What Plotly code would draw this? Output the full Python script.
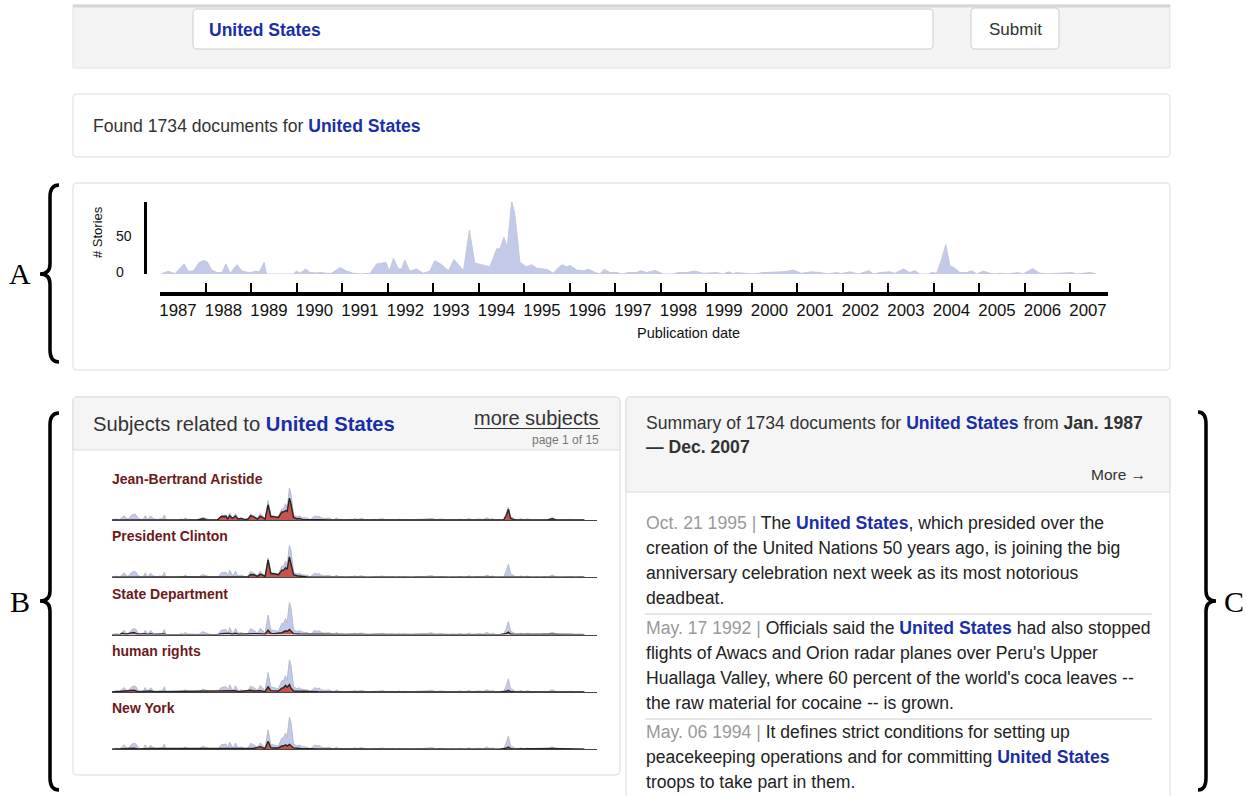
import plotly.graph_objects as go

W, H = 1247, 796
SANS = "Liberation Sans, Arial, Helvetica, sans-serif"
SERIF = "Liberation Serif, Times New Roman, serif"
BLUE_TXT = "#1a2ea8"

# ---------------- data ----------------
total_years = [1987.02, 1987.18, 1987.33, 1987.53, 1987.62, 1987.73, 1987.86, 1987.95, 1988.03, 1988.14,
               1988.25, 1988.36, 1988.45, 1988.54, 1988.69, 1988.80, 1988.98, 1989.09, 1989.18, 1989.29,
               1989.34, 1989.93, 1990.00, 1990.08, 1990.20, 1990.30, 1990.44, 1990.55, 1990.66, 1990.77,
               1990.96, 1991.10, 1991.25, 1991.40, 1991.62, 1991.76, 1991.97, 1992.04, 1992.13, 1992.24,
               1992.31, 1992.38, 1992.49, 1992.64, 1992.79, 1992.93, 1993.04, 1993.19, 1993.34, 1993.46,
               1993.56, 1993.67, 1993.80, 1993.92, 1994.07, 1994.25, 1994.40, 1994.47, 1994.56, 1994.63,
               1994.73, 1994.80, 1994.91, 1995.06, 1995.17, 1995.28, 1995.42, 1995.53, 1995.64, 1995.83,
               1995.94, 1996.01, 1996.16, 1996.30, 1996.43, 1996.56, 1996.67, 1996.76, 1996.89, 1997.04,
               1997.15, 1997.29, 1997.48, 1997.56, 1997.70, 1997.88, 1998.06, 1998.28, 1998.39, 1998.58,
               1998.76, 1998.94, 1999.23, 1999.38, 1999.49, 1999.60, 1999.67, 1999.89, 2000.04, 2000.26,
               2000.48, 2000.70, 2000.92, 2001.10, 2001.32, 2001.51, 2001.69, 2001.87, 2001.98, 2002.16,
               2002.35, 2002.58, 2002.68, 2002.82, 2003.04, 2003.15, 2003.34, 2003.48, 2003.59, 2003.70,
               2003.89, 2003.96, 2004.07, 2004.18, 2004.27, 2004.36, 2004.47, 2004.58, 2004.73, 2004.84,
               2004.95, 2005.09, 2005.24, 2005.35, 2005.50, 2005.64, 2005.86, 2005.97, 2006.18, 2006.34,
               2006.49, 2006.70, 2006.85, 2007.04, 2007.14, 2007.44, 2007.58]
total_counts = [0, 3.7, 0.5, 14, 4, 4, 16, 18.5, 17.5, 5.5,
                2, 2, 14, 1, 13, 4, 1.5, 4, 3, 16,
                0, 0, 4, 1, 7, 2, 1.5, 2, 1, 1,
                9, 4, 1, 0, 1, 14, 16, 4, 22, 7,
                7, 19.5, 4, 7, 1, 4, 18.5, 13, 4.5, 20,
                13, 4.5, 61, 15, 13, 10, 35, 35, 51, 37,
                101, 83, 16, 10, 13, 8, 7, 5.5, 1, 13,
                10, 12, 5.5, 4.5, 6.5, 2, 0, 6.5, 2, 2,
                0, 2, 2, 4.5, 2, 5, 0, 0, 2, 2,
                4, 1, 2, 0, 3, 0.5, 2, 1, 0, 2,
                2, 3, 5.5, 1, 3, 2, 0, 2, 0.5, 3,
                0, 4.5, 0, 2, 3, 1, 7, 2, 4.5, 0,
                0, 2, 1, 21, 41, 11.5, 8, 2, 2, 4.5,
                0, 4, 1, 0, 1, 0, 2, 0, 7.5, 1,
                0, 1, 2, 2, 0, 2, 0]

subject_names = ["Jean-Bertrand Aristide", "President Clinton", "State Department", "human rights", "New York"]

aristide_years = [1987.0, 1990.70, 1990.96, 1991.10, 1991.60, 1991.76, 1991.97, 1992.04, 1992.13, 1992.24,
                  1992.38, 1992.49, 1992.64, 1992.79, 1992.93, 1993.04, 1993.19, 1993.34, 1993.46, 1993.56,
                  1993.67, 1993.80, 1993.92, 1994.07, 1994.25, 1994.40, 1994.47, 1994.56, 1994.63, 1994.73,
                  1994.80, 1994.91, 1995.06, 1995.17, 1995.28, 1995.53, 1995.83, 1996.01, 1996.50, 1997.00,
                  1999.50, 2000.92, 2001.10, 2003.89, 2004.07, 2004.18, 2004.27, 2004.36, 2004.47, 2004.60,
                  2005.97, 2006.18, 2006.34, 2007.58]
aristide_counts = [0, 0, 4, 1, 0.5, 11, 12, 3, 14, 5,
                   13, 3, 5, 1, 3, 14, 9, 3, 12, 8,
                   3, 48, 11, 10, 8, 25, 25, 30, 27, 69,
                   50, 8, 4, 5, 2, 1, 2, 1, 0.5, 0.5,
                   0.5, 2, 0.3, 0, 1, 15, 34, 6, 2, 0.5,
                   0, 4, 0.5, 0]

clinton_years = [1987.0, 1992.80, 1992.93, 1993.04, 1993.19, 1993.34, 1993.46, 1993.56, 1993.67, 1993.80,
                 1993.92, 1994.07, 1994.25, 1994.40, 1994.47, 1994.56, 1994.63, 1994.73, 1994.80, 1994.91,
                 1995.06, 1995.17, 1995.28, 1995.50, 1996.00, 2007.58]
clinton_counts = [0, 0, 2, 9, 8, 3, 10, 7, 3, 55,
                  12, 11, 8, 22, 22, 30, 25, 64, 45, 8,
                  5, 4, 2, 1, 0.5, 0]

statedept_years = [1987.0, 1987.33, 1987.45, 1987.60, 1987.95, 1988.14, 1988.45, 1988.54, 1988.69, 1988.80,
                   1989.29, 1989.34, 1991.60, 1991.76, 1991.97, 1992.13, 1992.24, 1992.38, 1992.50, 1993.04,
                   1993.19, 1993.46, 1993.67, 1993.80, 1993.92, 1994.07, 1994.40, 1994.56, 1994.63, 1994.73,
                   1994.80, 1994.91, 1995.20, 1995.50, 1996.00, 1997.00, 2003.89, 2004.18, 2004.27, 2004.36,
                   2004.50, 2006.18, 2007.58]
statedept_counts = [0, 0, 4, 1, 7, 1, 3, 0.5, 3, 0.5,
                    2, 0, 0, 3, 4, 4, 1, 4, 1, 4,
                    3, 3, 1, 14, 4, 3, 6, 12, 10, 16,
                    10, 3, 2, 1, 1, 0.5, 0, 4, 8, 2,
                    0.5, 1, 0]

humanrights_years = [1987.0, 1987.53, 1987.95, 1988.14, 1988.45, 1988.69, 1988.80, 1989.29, 1991.76, 1991.97,
                     1992.13, 1992.38, 1992.50, 1993.04, 1993.19, 1993.46, 1993.67, 1993.80, 1993.92, 1994.07,
                     1994.25, 1994.40, 1994.47, 1994.56, 1994.63, 1994.73, 1994.80, 1994.91, 1995.20, 1995.50,
                     1996.00, 2003.89, 2004.18, 2004.27, 2004.36, 2004.50, 2006.18, 2007.58]
humanrights_counts = [0, 2, 5, 1, 2, 3, 0.5, 1, 4, 5,
                      4, 4, 1, 5, 3, 4, 1, 16, 4, 3,
                      3, 12, 13, 21, 15, 23, 12, 3, 2, 1,
                      0.5, 0, 2, 5, 1, 0.5, 1, 0]

newyork_years = [1987.0, 1987.45, 1987.95, 1988.14, 1988.45, 1988.69, 1989.29, 1991.76, 1991.97, 1992.13,
                 1992.38, 1993.04, 1993.19, 1993.46, 1993.67, 1993.80, 1993.92, 1994.07, 1994.25, 1994.40,
                 1994.47, 1994.56, 1994.63, 1994.73, 1994.80, 1994.91, 1995.20, 1995.50, 1996.00, 1997.00,
                 2003.89, 2004.18, 2004.27, 2004.36, 2004.50, 2006.18, 2007.58]
newyork_counts = [0, 2, 3, 1, 2, 2, 2, 3, 4, 3,
                  3, 4, 3, 8, 2, 25, 5, 4, 4, 10,
                  10, 14, 10, 15, 10, 4, 2, 1, 1, 0.5,
                  0, 3, 7, 2, 0.5, 2, 0]

subject_years = [aristide_years, clinton_years, statedept_years, humanrights_years, newyork_years]
subject_counts = [aristide_counts, clinton_counts, statedept_counts, humanrights_counts, newyork_counts]

year_ticks = list(range(1987, 2008))
year_labels = [str(y) for y in year_ticks]
y_tick_values = [50, 0]
y_tick_labels = ["50", "0"]


# ---------------- helpers ----------------
def px(x):
    return x / W


def py(y):
    return 1 - y / H


def P(x, y):
    return f"{px(x):.6f},{py(y):.6f}"


def rrect(x0, y0, x1, y1, r=4):
    return (f"M{P(x0 + r, y0)} L{P(x1 - r, y0)} Q{P(x1, y0)} {P(x1, y0 + r)} "
            f"L{P(x1, y1 - r)} Q{P(x1, y1)} {P(x1 - r, y1)} L{P(x0 + r, y1)} "
            f"Q{P(x0, y1)} {P(x0, y1 - r)} L{P(x0, y0 + r)} Q{P(x0, y0)} {P(x0 + r, y0)} Z")


def top_rrect(x0, y0, x1, y1, r=4):
    return (f"M{P(x0, y1)} L{P(x0, y0 + r)} Q{P(x0, y0)} {P(x0 + r, y0)} "
            f"L{P(x1 - r, y0)} Q{P(x1, y0)} {P(x1, y0 + r)} L{P(x1, y1)} Z")


def brace(x_end, x_stem, x_tip, y0, ym, y1):
    return (f"M{P(x_end, y0)} Q{P(x_stem, y0)} {P(x_stem, y0 + 12)} L{P(x_stem, ym - 10)} "
            f"Q{P(x_stem, ym)} {P(x_tip, ym)} Q{P(x_stem, ym)} {P(x_stem, ym + 10)} "
            f"L{P(x_stem, y1 - 12)} Q{P(x_stem, y1)} {P(x_end, y1)}")


shapes = []
annotations = []


def box(path, fill, line="#dddddd", width=1):
    shapes.append(dict(type="path", path=path, xref="paper", yref="paper", fillcolor=fill,
                       line=dict(color=line, width=width), layer="below"))


def hline(x0, x1, y, color="#dddddd", width=1):
    shapes.append(dict(type="line", x0=px(x0), x1=px(x1), y0=py(y), y1=py(y), xref="paper", yref="paper",
                       line=dict(color=color, width=width), layer="below"))


def text(x, y, s, size=17.5, color="#333333", anchor="left", family=SANS, angle=0):
    annotations.append(dict(x=px(x), y=py(y), xref="paper", yref="paper", text=s, showarrow=False,
                            xanchor=anchor, yanchor="middle", textangle=angle,
                            font=dict(size=size, color=color, family=family)))


def us(s="United States"):
    return f"<b><span style='color:{BLUE_TXT}'>{s}</span></b>"


def gray(s):
    return f"<span style='color:#999999'>{s}</span>"


# ---------------- page chrome ----------------
# search bar
box(f"M{P(73, 5)} L{P(1170, 5)} L{P(1170, 68)} L{P(73, 68)} Z", "#f4f4f4", "#e4e4e4")
hline(73, 1170, 6, "#d6d6d6", 3)
box(rrect(193, 9, 933, 49, 4), "#ffffff", "#cccccc")
box(rrect(971, 8, 1059, 49, 4), "#ffffff", "#cccccc")
text(207, 30, us(), 17.5)
text(1015, 29, "Submit", 17, "#333333", "center")

# found panel
box(rrect(73, 94, 1170, 157, 4), "#ffffff", "#dddddd")
text(91, 126, "Found 1734 documents for " + us(), 17.6)

# chart panel
box(rrect(73, 183, 1170, 370, 4), "#ffffff", "#dddddd")
text(98, 232, "# Stories", 13, "#111111", "center", angle=-90)
text(688, 333, "Publication date", 14.5, "#111111", "center")
for v, lab in zip(y_tick_values, y_tick_labels):
    annotations.append(dict(x=px(114), y=v, xref="paper", yref="y", text=lab, showarrow=False,
                            xanchor="left", yanchor="middle", yshift=1.5,
                            font=dict(size=14, color="#111111", family=SANS)))

# subjects panel
box(rrect(73, 397, 620, 775, 4), "#ffffff", "#dddddd")
box(top_rrect(73, 397, 620, 450, 4), "#f5f5f5", "#dddddd")
text(91, 424, "Subjects related to " + us(), 20.2)
text(601, 418, "more subjects", 20, "#333333", "right")
hline(474, 600, 428.5, "#333333", 1.2)
text(601, 440, "page 1 of 15", 12, "#777777", "right")

# summary panel
box(rrect(626, 397, 1170, 830, 4), "#ffffff", "#dddddd")
box(top_rrect(626, 397, 1170, 492, 4), "#f5f5f5", "#dddddd")
text(644, 423, "Summary of 1734 documents for " + us() + " from <b>Jan. 1987</b>", 17.6)
text(644, 447, "<b>— Dec. 2007</b>", 17.6)
text(1148, 475, "More →", 15.5, "#333333", "right")

body = [
    (523, gray("Oct. 21 1995 |") + " The " + us() + ", which presided over the"),
    (548, "creation of the United Nations 50 years ago, is joining the big"),
    (573, "anniversary celebration next week as its most notorious"),
    (598, "deadbeat."),
    (628, gray("May. 17 1992 |") + " Officials said the " + us() + " had also stopped"),
    (653, "flights of Awacs and Orion radar planes over Peru's Upper"),
    (678, "Huallaga Valley, where 60 percent of the world's coca leaves --"),
    (703, "the raw material for cocaine -- is grown."),
    (732, gray("May. 06 1994 |") + " It defines strict conditions for setting up"),
    (757, "peacekeeping operations and for committing " + us()),
    (782, "troops to take part in them."),
]
for yy, s in body:
    text(644, yy, s, 17.6, "#222222")
hline(645, 1152, 614, "#cccccc", 1)
hline(645, 1152, 719, "#cccccc", 1)

# braces and letters
for path in [brace(59, 50, 40, 185, 274, 362), brace(59, 50, 40, 413, 601, 790),
             brace(1198, 1206, 1216, 412, 601, 790)]:
    shapes.append(dict(type="path", path=path, xref="paper", yref="paper",
                       line=dict(color="#000000", width=3.5), layer="above"))
text(20, 273, "A", 30, "#000000", "center", SERIF)
text(20, 601, "B", 30, "#000000", "center", SERIF)
text(1234, 601, "C", 30, "#000000", "center", SERIF)

# ---------------- traces ----------------
fig = go.Figure()
AREA_FILL = "#c2c9e9"
AREA_LINE = "#c6c9d8"
RED_FILL = "#c6534d"

fig.add_trace(go.Scatter(x=total_years, y=total_counts, mode="lines", fill="tozeroy",
                         fillcolor=AREA_FILL, line=dict(color=AREA_LINE, width=1),
                         xaxis="x", yaxis="y", hoverinfo="skip"))

mini_baselines = [520, 577.3, 634.6, 691.9, 749.2]
layout_axes = {}
for i, (name, yrs, cnts, base) in enumerate(zip(subject_names, subject_years, subject_counts, mini_baselines)):
    k = i + 2
    fig.add_trace(go.Scatter(x=total_years, y=total_counts, mode="lines", fill="tozeroy",
                             fillcolor=AREA_FILL, line=dict(color="#b9bccb", width=1),
                             xaxis=f"x{k}", yaxis=f"y{k}", hoverinfo="skip"))
    fig.add_trace(go.Scatter(x=yrs, y=cnts, mode="lines", fill="tozeroy",
                             fillcolor=RED_FILL, line=dict(color="#262626", width=1.4),
                             xaxis=f"x{k}", yaxis=f"y{k}", hoverinfo="skip"))
    layout_axes[f"xaxis{k}"] = dict(domain=[px(112), px(597)], range=[1987, 2008.13], anchor=f"y{k}",
                                    showline=True, linecolor="#444444", linewidth=1, showgrid=False,
                                    zeroline=False, showticklabels=False, ticks="", fixedrange=True)
    layout_axes[f"yaxis{k}"] = dict(domain=[py(base), py(base - 33)], range=[0, 104], anchor=f"x{k}",
                                    showline=False, showgrid=False, zeroline=False,
                                    showticklabels=False, ticks="", fixedrange=True)
    text(110, base - 41, f"<b>{name}</b>", 14, "#6b1b1b")

fig.update_layout(
    width=W, height=H, margin=dict(l=0, r=0, t=0, b=0), autosize=False,
    paper_bgcolor="#ffffff", plot_bgcolor="rgba(0,0,0,0)", showlegend=False,
    font=dict(family=SANS, color="#111111"),
    xaxis=dict(domain=[px(160), px(1108)], range=[1987, 2007.835], anchor="free", position=py(294),
               showline=True, linecolor="#000000", linewidth=4, ticks="inside", ticklen=9,
               tickwidth=1.5, tickcolor="#000000", tickmode="array", tickvals=year_ticks,
               ticktext=year_labels, tickfont=dict(size=16.8, color="#111111", family=SANS),
               ticklabelshift=18, showgrid=False, zeroline=False, fixedrange=True),
    yaxis=dict(domain=[py(274), py(202)], range=[0, 100], anchor="free", position=px(145),
               showline=True, linecolor="#000000", linewidth=3, ticks="", showticklabels=False,
               showgrid=False, zeroline=False, fixedrange=True),
    shapes=shapes, annotations=annotations,
    **layout_axes,
)

fig.write_html("out.html", config={"displayModeBar": False},
               post_script="document.body.style.margin='0';")
